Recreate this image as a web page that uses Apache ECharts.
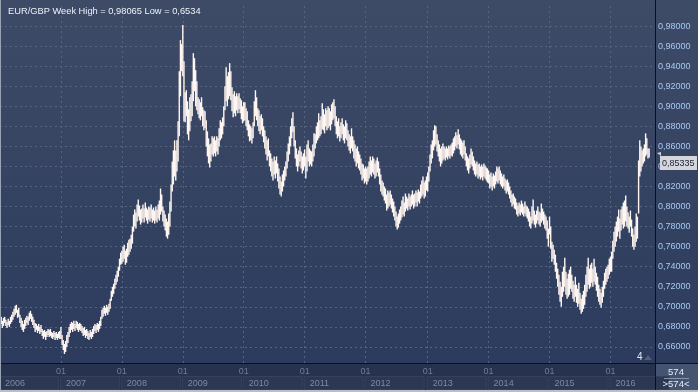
<!DOCTYPE html>
<html>
<head>
<meta charset="utf-8">
<script src="https://cdn.jsdelivr.net/npm/echarts@6/dist/echarts.min.js"></script>
<style>
html,body{margin:0;padding:0;background:#2c3a5a;}
#chart{width:698px;height:392px;}
</style>
</head>
<body>
<div id="chart"></div>
<script>
// ---- data (weekly high / low, EUR/GBP) ----
const firstWeek = '2006-01-02';
const weekSlots = 560;
const titleText = 'EUR/GBP Week High = 0,98065 Low = 0,6534';
const lastClose = 0.85335;
const barCount = '574';

const low2006 = [0.680,0.683,0.679,0.681,0.684,0.681,0.679,0.682,0.680,0.683,
0.685,0.687,0.690,0.692,0.694,0.689,0.690,0.684,0.680,0.677,
0.675,0.678,0.681,0.684,0.682,0.686,0.688,0.685,0.682,0.679,
0.675,0.677,0.674,0.676,0.673,0.675,0.671,0.668,0.670,0.667,
0.670,0.672,0.670,0.671,0.669,0.668,0.670,0.667,0.669,0.667,
0.669,0.668];
const high2006 = [0.688,0.690,0.686,0.689,0.690,0.687,0.685,0.688,0.686,0.690,
0.692,0.695,0.698,0.701,0.702,0.697,0.699,0.692,0.689,0.686,
0.683,0.687,0.689,0.691,0.690,0.694,0.696,0.693,0.690,0.687,
0.684,0.683,0.681,0.683,0.680,0.682,0.678,0.676,0.677,0.675,
0.676,0.678,0.677,0.678,0.675,0.674,0.676,0.674,0.675,0.673,
0.675,0.676];
const low2007 = [0.668,0.662,0.657,0.653,0.655,0.660,0.664,0.670,0.674,0.677,
0.675,0.678,0.676,0.679,0.677,0.675,0.677,0.676,0.674,0.671,
0.672,0.669,0.671,0.668,0.667,0.670,0.668,0.670,0.673,0.676,
0.674,0.677,0.675,0.678,0.681,0.688,0.690,0.693,0.691,0.694,
0.692,0.695,0.698,0.706,0.710,0.713,0.718,0.722,0.725,0.730,
0.736,0.742];
const high2007 = [0.680,0.672,0.667,0.663,0.666,0.672,0.675,0.680,0.683,0.685,
0.684,0.686,0.683,0.686,0.685,0.683,0.684,0.683,0.681,0.679,
0.680,0.677,0.678,0.676,0.674,0.677,0.675,0.678,0.681,0.683,
0.682,0.684,0.683,0.686,0.690,0.697,0.699,0.701,0.699,0.702,
0.700,0.703,0.708,0.716,0.720,0.723,0.728,0.732,0.736,0.740,
0.748,0.754];
const low2008 = [0.743,0.745,0.748,0.742,0.744,0.750,0.752,0.755,0.758,0.763,
0.775,0.780,0.778,0.785,0.790,0.786,0.782,0.784,0.788,0.784,
0.789,0.786,0.783,0.787,0.785,0.788,0.784,0.786,0.783,0.786,
0.784,0.788,0.786,0.792,0.795,0.785,0.780,0.776,0.770,0.768,
0.772,0.780,0.795,0.815,0.822,0.830,0.826,0.835,0.845,0.870,
0.910,0.935,0.930];
const high2008 = [0.756,0.760,0.762,0.756,0.758,0.764,0.767,0.768,0.772,0.780,
0.792,0.797,0.794,0.802,0.807,0.801,0.797,0.798,0.802,0.798,
0.804,0.799,0.797,0.800,0.799,0.802,0.797,0.799,0.796,0.800,
0.797,0.802,0.806,0.818,0.812,0.800,0.796,0.792,0.788,0.785,
0.793,0.805,0.822,0.845,0.856,0.866,0.856,0.866,0.885,0.935,
0.966,0.962,0.981];
const low2009 = [0.885,0.884,0.890,0.872,0.866,0.875,0.885,0.890,0.905,0.915,
0.900,0.896,0.892,0.888,0.886,0.890,0.880,0.876,0.878,0.860,
0.850,0.843,0.839,0.845,0.852,0.850,0.853,0.850,0.855,0.852,
0.860,0.866,0.868,0.872,0.880,0.896,0.905,0.900,0.907,0.910,
0.906,0.895,0.889,0.893,0.890,0.896,0.893,0.897,0.893,0.887,
0.883,0.885];
const high2009 = [0.945,0.914,0.916,0.905,0.897,0.909,0.912,0.925,0.953,0.948,
0.936,0.925,0.909,0.907,0.904,0.909,0.899,0.896,0.895,0.886,
0.875,0.868,0.862,0.863,0.870,0.868,0.870,0.866,0.870,0.868,
0.878,0.886,0.884,0.889,0.900,0.920,0.939,0.930,0.934,0.943,
0.935,0.919,0.912,0.915,0.910,0.913,0.910,0.913,0.908,0.906,
0.900,0.904];
const low2010 = [0.886,0.880,0.876,0.870,0.865,0.866,0.863,0.868,0.880,0.890,
0.886,0.880,0.875,0.872,0.876,0.870,0.864,0.858,0.852,0.846,
0.850,0.840,0.835,0.830,0.826,0.832,0.828,0.833,0.825,0.818,
0.812,0.810,0.815,0.820,0.826,0.830,0.838,0.845,0.852,0.860,
0.868,0.874,0.860,0.848,0.840,0.835,0.840,0.845,0.838,0.833,
0.836,0.840];
const high2010 = [0.904,0.898,0.895,0.886,0.882,0.880,0.878,0.884,0.905,0.916,
0.909,0.898,0.896,0.890,0.892,0.888,0.880,0.876,0.870,0.866,
0.868,0.856,0.853,0.848,0.845,0.850,0.846,0.850,0.843,0.838,
0.830,0.825,0.832,0.836,0.840,0.845,0.855,0.863,0.870,0.880,
0.888,0.894,0.880,0.866,0.858,0.852,0.856,0.860,0.855,0.850,
0.853,0.857];
const low2011 = [0.828,0.835,0.845,0.840,0.842,0.840,0.845,0.850,0.858,0.863,
0.866,0.868,0.870,0.872,0.877,0.876,0.873,0.880,0.876,0.878,
0.880,0.876,0.882,0.886,0.888,0.880,0.872,0.868,0.870,0.865,
0.868,0.872,0.866,0.863,0.868,0.866,0.860,0.856,0.853,0.858,
0.855,0.848,0.845,0.840,0.843,0.838,0.836,0.832,0.826,0.828,
0.823,0.825];
const high2011 = [0.850,0.862,0.866,0.858,0.856,0.855,0.862,0.873,0.872,0.880,
0.884,0.893,0.886,0.890,0.903,0.897,0.892,0.898,0.896,0.900,
0.898,0.895,0.902,0.904,0.907,0.900,0.890,0.885,0.888,0.880,
0.884,0.888,0.882,0.880,0.886,0.883,0.876,0.872,0.870,0.878,
0.870,0.866,0.862,0.858,0.860,0.855,0.852,0.848,0.843,0.842,
0.838,0.840];
const low2012 = [0.822,0.825,0.828,0.832,0.830,0.834,0.832,0.828,0.830,0.834,
0.830,0.822,0.815,0.812,0.810,0.806,0.803,0.796,0.798,0.800,
0.802,0.798,0.794,0.790,0.786,0.780,0.777,0.779,0.783,0.786,
0.789,0.792,0.790,0.795,0.798,0.796,0.800,0.797,0.800,0.802,
0.798,0.800,0.804,0.800,0.805,0.803,0.808,0.810,0.812,0.808,
0.810,0.816];
const high2012 = [0.838,0.840,0.845,0.850,0.846,0.850,0.848,0.843,0.846,0.849,
0.845,0.838,0.832,0.826,0.824,0.820,0.818,0.812,0.816,0.814,
0.816,0.812,0.808,0.805,0.800,0.795,0.790,0.793,0.797,0.800,
0.806,0.810,0.804,0.813,0.810,0.808,0.813,0.810,0.812,0.816,
0.812,0.813,0.816,0.814,0.817,0.815,0.822,0.826,0.830,0.824,
0.826,0.830];
const low2013 = [0.815,0.825,0.835,0.843,0.848,0.856,0.860,0.862,0.855,0.850,
0.845,0.840,0.843,0.846,0.848,0.846,0.849,0.847,0.850,0.848,
0.851,0.850,0.853,0.856,0.860,0.858,0.862,0.857,0.852,0.850,
0.848,0.852,0.846,0.840,0.836,0.833,0.838,0.842,0.840,0.836,
0.832,0.830,0.832,0.828,0.830,0.827,0.829,0.826,0.830,0.828,
0.826,0.824];
const high2013 = [0.834,0.840,0.852,0.862,0.866,0.876,0.881,0.880,0.872,0.866,
0.862,0.858,0.860,0.863,0.860,0.858,0.860,0.858,0.861,0.860,
0.862,0.864,0.868,0.870,0.874,0.871,0.877,0.872,0.868,0.866,
0.864,0.866,0.860,0.853,0.850,0.848,0.852,0.858,0.855,0.850,
0.846,0.843,0.845,0.842,0.843,0.840,0.842,0.840,0.843,0.841,
0.839,0.838];
const low2014 = [0.823,0.818,0.820,0.816,0.820,0.818,0.822,0.825,0.823,0.826,
0.822,0.820,0.818,0.820,0.816,0.813,0.815,0.812,0.808,0.804,
0.800,0.802,0.798,0.797,0.792,0.790,0.793,0.791,0.794,0.792,
0.790,0.793,0.790,0.788,0.785,0.780,0.778,0.783,0.786,0.782,
0.779,0.783,0.786,0.782,0.780,0.784,0.786,0.782,0.778,0.776,
0.768,0.760];
const high2014 = [0.836,0.832,0.834,0.830,0.833,0.831,0.835,0.840,0.838,0.840,
0.836,0.833,0.830,0.832,0.828,0.826,0.827,0.824,0.820,0.816,
0.812,0.813,0.810,0.808,0.804,0.801,0.804,0.802,0.806,0.803,
0.800,0.805,0.801,0.800,0.798,0.795,0.790,0.800,0.807,0.796,
0.792,0.796,0.800,0.795,0.794,0.803,0.798,0.795,0.792,0.790,
0.786,0.778];
const low2015 = [0.772,0.758,0.745,0.748,0.742,0.735,0.728,0.720,0.712,0.705,
0.700,0.710,0.715,0.720,0.712,0.708,0.710,0.712,0.718,0.715,
0.708,0.705,0.710,0.704,0.700,0.703,0.697,0.693,0.695,0.698,
0.702,0.710,0.715,0.722,0.718,0.720,0.724,0.720,0.725,0.722,
0.716,0.710,0.705,0.702,0.699,0.704,0.710,0.718,0.722,0.725,
0.728,0.732,0.735];
const high2015 = [0.790,0.780,0.765,0.762,0.757,0.752,0.744,0.738,0.732,0.725,
0.720,0.735,0.740,0.749,0.735,0.728,0.733,0.737,0.740,0.732,
0.726,0.722,0.730,0.722,0.718,0.724,0.714,0.708,0.712,0.716,
0.722,0.732,0.740,0.749,0.738,0.742,0.744,0.738,0.748,0.740,
0.734,0.730,0.722,0.718,0.714,0.720,0.726,0.734,0.738,0.740,
0.742,0.748,0.750];
const low2016 = [0.735,0.748,0.755,0.760,0.765,0.770,0.775,0.768,0.776,0.782,
0.778,0.780,0.785,0.780,0.778,0.774,0.780,0.770,0.760,0.757,
0.760,0.765,0.768,0.793,0.830,0.835,0.840,0.843,0.845,0.850,
0.852,0.848,0.849];
const high2016 = [0.755,0.766,0.775,0.780,0.785,0.790,0.797,0.788,0.797,0.800,
0.804,0.806,0.811,0.800,0.794,0.790,0.796,0.787,0.778,0.772,
0.780,0.793,0.790,0.846,0.866,0.860,0.856,0.858,0.862,0.873,
0.868,0.858,0.858];

const weekLow = [].concat(low2006,low2007,low2008,low2009,low2010,low2011,low2012,low2013,low2014,low2015,low2016);
const weekHigh = [].concat(high2006,high2007,high2008,high2009,high2010,high2011,high2012,high2013,high2014,high2015,high2016);

// ---- week categories ----
const DAY = 86400000;
const t0 = Date.parse(firstWeek + 'T00:00:00Z');
const weekDates = [];
const yearTick = {};   // index -> year (week containing 1 Jan)
for (let i = 0; i < weekSlots; i++) {
  const d = new Date(t0 + i * 7 * DAY);
  weekDates.push(d.toISOString().slice(0, 10));
  const e = new Date(t0 + (i * 7 + 6) * DAY);
  if (e.getUTCMonth() === 0 && e.getUTCDate() <= 7) yearTick[i] = e.getUTCFullYear();
}
const yearLabel = Object.assign({0: new Date(t0).getUTCFullYear()}, yearTick);

const seriesData = weekLow.map((l, i) => [i, l, weekHigh[i]]);

const FONT = 'Liberation Sans';
const chart = echarts.init(document.getElementById('chart'), null, {renderer: 'canvas'});

const option = {
  animation: false,
  backgroundColor: new echarts.graphic.LinearGradient(0, 0, 0, 1, [
    {offset: 0, color: '#3e4b67'},
    {offset: 1, color: '#2b3a5c'}
  ]),
  title: {
    text: titleText, left: 3, top: 2,
    textStyle: {color: '#eef2f8', fontSize: 9.3, fontWeight: 'normal', fontFamily: FONT}
  },
  grid: {left: 0, right: 43, top: 6, bottom: 25, containLabel: false, outerBoundsMode: 'none'},
  xAxis: [
    {
      type: 'category', data: weekDates, boundaryGap: false,
      axisLine: {show: false}, axisTick: {show: false}, axisLabel: {show: false},
      splitLine: {show: true, interval: (i) => yearTick[i] !== undefined,
        lineStyle: {color: '#56657f', type: [2, 3], width: 1}}
    },
    {
      type: 'category', data: weekDates, boundaryGap: false, position: 'bottom', offset: -4, z: 60,
      axisLine: {show: false}, axisTick: {show: false}, splitLine: {show: false},
      axisLabel: {
        interval: (i) => yearTick[i] !== undefined,
        formatter: () => '01',
        color: '#6b7d9b', fontSize: 9, fontFamily: FONT, margin: 4
      }
    },
    {
      type: 'category', data: weekDates, boundaryGap: false, position: 'bottom', offset: -4, z: 60,
      axisLine: {show: false}, axisTick: {show: false}, splitLine: {show: false},
      axisLabel: {
        interval: (i) => yearLabel[i] !== undefined,
        showMinLabel: true, showMaxLabel: true, hideOverlap: false,
        formatter: (v, i) => String(yearLabel[i]),
        align: 'left', color: '#7b8aa6', fontSize: 9, fontFamily: FONT, margin: 14,
        width: 53, height: 11, lineHeight: 11, padding: [1, 0, 0, 5],
        backgroundColor: '#2c3754', borderColor: '#35415e', borderWidth: 1
      }
    }
  ],
  yAxis: {
    type: 'value', position: 'right', min: 0.64, max: 1.0, interval: 0.02,
    axisLine: {show: false}, axisTick: {show: false},
    axisLabel: {
      showMinLabel: false, showMaxLabel: false,
      formatter: (v) => v.toFixed(5).replace('.', ','),
      color: '#a8c9f2', fontSize: 9, fontFamily: FONT, margin: 3
    },
    splitLine: {show: true, showMinLine: false, showMaxLine: false,
      lineStyle: {color: '#56657f', type: [2, 3], width: 1}}
  },
  series: [{
    type: 'custom',
    xAxisIndex: 0, yAxisIndex: 0,
    data: seriesData,
    encode: {x: 0, y: [1, 2]},
    clip: true,
    renderItem: function (params, api) {
      const lo = api.coord([api.value(0), api.value(1)]);
      const hi = api.coord([api.value(0), api.value(2)]);
      return {
        type: 'rect',
        shape: {x: lo[0] - 0.7, y: hi[1], width: 1.4, height: Math.max(1, lo[1] - hi[1])},
        style: {fill: '#fff6f1'}
      };
    }
  }],
  graphic: []
};
chart.setOption(option);

const py = chart.convertToPixel({yAxisIndex: 0}, lastClose);
chart.setOption({
  graphic: [
    {type: 'rect', z: 50, silent: true, shape: {x: 0, y: 363, width: 655, height: 29}, style: {fill: '#27324e'}},
    {type: 'rect', z: 50, silent: true, shape: {x: 655, y: 363, width: 43, height: 29}, style: {fill: '#44536f'}},
    {type: 'line', z: 70, silent: true, shape: {x1: 0, y1: 363.5, x2: 698, y2: 363.5}, style: {stroke: '#0d1018', lineWidth: 1}},
    {type: 'line', z: 70, silent: true, shape: {x1: 655.5, y1: 0, x2: 655.5, y2: 392}, style: {stroke: '#0d1018', lineWidth: 1}},
    {type: 'line', z: 70, silent: true, shape: {x1: 0.5, y1: 0, x2: 0.5, y2: 392}, style: {stroke: '#9aa3b4', lineWidth: 1}},
    {type: 'rect', z: 70, silent: true, shape: {x: 0, y: 390, width: 698, height: 2}, style: {fill: '#b9bec8'}},
    {type: 'text', z: 70, silent: true, x: 676, y: 372, style: {text: barCount, fill: '#e8ecf4', font: '9.5px ' + FONT, align: 'center', verticalAlign: 'middle'}},
    {type: 'line', z: 70, silent: true, shape: {x1: 664, y1: 378.5, x2: 689, y2: 378.5}, style: {stroke: '#8794ab', lineWidth: 1}},
    {type: 'text', z: 70, silent: true, x: 676, y: 384.5, style: {text: '>' + barCount + '<', fill: '#e8ecf4', font: '9.5px ' + FONT, align: 'center', verticalAlign: 'middle'}},
    {type: 'text', z: 70, silent: true, x: 637, y: 357, style: {text: '4', fill: '#e3e7ef', font: '10px ' + FONT, verticalAlign: 'middle'}},
    {type: 'polygon', z: 70, silent: true, shape: {points: [[644, 360], [652, 360], [648, 355]]}, style: {fill: '#54607a'}},
    {type: 'polygon', z: 70, silent: true, shape: {points: [[657, py], [661, py + 3], [661, py - 1]]}, style: {fill: '#c9cdd5'}},
    {type: 'rect', z: 70, silent: true, shape: {x: 660, y: py + 3, width: 37, height: 14}, style: {fill: '#d3d6dc'}},
    {type: 'text', z: 71, silent: true, x: 662, y: py + 10.5, style: {text: lastClose.toFixed(5).replace('.', ','), fill: '#222733', font: '9px ' + FONT, verticalAlign: 'middle'}}
  ]
});
</script>
</body>
</html>
